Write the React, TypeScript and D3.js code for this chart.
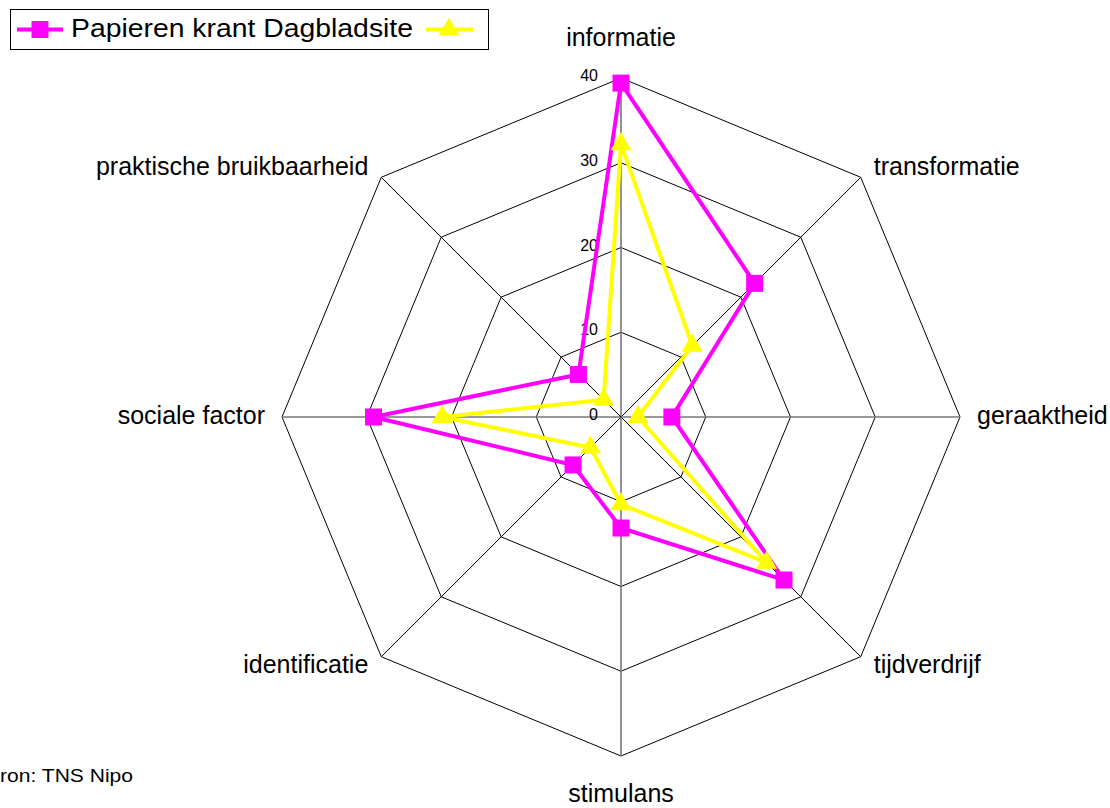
import { useEffect, useRef } from 'react';
import * as d3 from 'd3';

const categories = [
  'informatie',
  'transformatie',
  'geraaktheid',
  'tijdverdrijf',
  'stimulans',
  'identificatie',
  'sociale factor',
  'praktische bruikbaarheid',
];
const papieren = [39.4, 22.3, 6.0, 27.2, 13.1, 8.0, 29.2, 7.1];
const dagbladsite = [32.2, 11.9, 2.0, 24.3, 10.3, 5.1, 21.1, 2.9];
const ticks = [0, 10, 20, 30, 40];
const legendLabel = 'Papieren krant Dagbladsite';
const source = 'Bron: TNS Nipo';

const MAGENTA = '#FF00FF';
const YELLOW = '#FFFF00';

const App = () => {
  const svgRef = useRef<SVGSVGElement>(null);

  useEffect(() => {
    if (!svgRef.current) return;
    const svg = d3.select(svgRef.current);
    svg.selectAll('*').remove();

    const cx = 621;
    const cy = 417;
    const font = 'Liberation Sans, Arial, sans-serif';

    const r = d3.scaleLinear().domain([0, 40]).range([0, 339]);
    const angle = d3
      .scaleLinear()
      .domain([0, categories.length])
      .range([0, 2 * Math.PI]);

    const g = svg.append('g').attr('transform', `translate(${cx},${cy})`);

    // octagon rings
    const ring = d3
      .lineRadial<number>()
      .angle((_, i) => angle(i))
      .radius((d) => r(d))
      .curve(d3.curveLinearClosed);
    ticks.slice(1).forEach((t) => {
      g.append('path')
        .attr('d', ring(categories.map(() => t)))
        .attr('fill', 'none')
        .attr('stroke', '#000')
        .attr('stroke-width', 1);
    });

    // spokes
    categories.forEach((_, i) => {
      const a = angle(i);
      const straight = i % 2 === 0;
      g.append('line')
        .attr('x1', 0)
        .attr('y1', 0)
        .attr('x2', r(40) * Math.sin(a))
        .attr('y2', -r(40) * Math.cos(a))
        .attr('stroke', straight ? '#777' : '#000')
        .attr('stroke-width', straight ? 1.6 : 1);
    });

    // tick labels
    g.selectAll('text.tick')
      .data(ticks)
      .join('text')
      .attr('class', 'tick')
      .attr('x', -23)
      .attr('y', (d) => -r(d) + 3)
      .attr('text-anchor', 'end')
      .attr('font-family', font)
      .attr('font-size', 16)
      .text((d) => d);

    // category labels
    categories.forEach((c, i) => {
      const a = angle(i);
      const sx = Math.sin(a);
      const sy = -Math.cos(a);
      const vertical = Math.abs(sx) < 0.1;
      const diagonal = Math.abs(sx) > 0.1 && Math.abs(sy) > 0.1;
      const x = vertical ? 0 : r(40) * sx + (sx > 0 ? 1 : -1) * (diagonal ? 13 : 17);
      const y = vertical
        ? (r(40) + 39) * sy
        : r(40) * sy + (diagonal ? (sy > 0 ? 10 : -8.5) : 0);
      g.append('text')
        .attr('x', x)
        .attr('y', y)
        .attr('text-anchor', vertical ? 'middle' : sx > 0 ? 'start' : 'end')
        .attr('dominant-baseline', 'middle')
        .attr('font-family', font)
        .attr('font-size', 25)
        .attr('fill', '#000')
        .text(c);
    });

    const line = d3
      .lineRadial<number>()
      .angle((_, i) => angle(i))
      .radius((d) => r(d))
      .curve(d3.curveLinearClosed);

    const pt = (d: number, i: number) => [
      r(d) * Math.sin(angle(i)),
      -r(d) * Math.cos(angle(i)),
    ];

    // papieren krant
    g.append('path')
      .attr('d', line(papieren))
      .attr('fill', 'none')
      .attr('stroke', MAGENTA)
      .attr('stroke-width', 4);
    // dagbladsite
    g.append('path')
      .attr('d', line(dagbladsite))
      .attr('fill', 'none')
      .attr('stroke', YELLOW)
      .attr('stroke-width', 4);

    const square = d3.symbol().type(d3.symbolSquare).size(289);
    const triangle = d3.symbol().type(d3.symbolTriangle).size(190);

    g.selectAll('path.sq')
      .data(papieren)
      .join('path')
      .attr('class', 'sq')
      .attr('d', square)
      .attr('transform', (d, i) => `translate(${pt(d, i)})`)
      .attr('fill', MAGENTA);

    g.selectAll('path.tri')
      .data(dagbladsite)
      .join('path')
      .attr('class', 'tri')
      .attr('d', triangle)
      .attr('transform', (d, i) => `translate(${pt(d, i)})`)
      .attr('fill', YELLOW);

    // legend
    const lg = svg.append('g');
    lg.append('rect')
      .attr('x', 10.5)
      .attr('y', 9.5)
      .attr('width', 478)
      .attr('height', 40)
      .attr('fill', '#fff')
      .attr('stroke', '#000')
      .attr('stroke-width', 1);
    lg.append('line')
      .attr('x1', 17)
      .attr('x2', 63)
      .attr('y1', 29.5)
      .attr('y2', 29.5)
      .attr('stroke', MAGENTA)
      .attr('stroke-width', 4);
    lg.append('path')
      .attr('d', square)
      .attr('transform', 'translate(40,29.5)')
      .attr('fill', MAGENTA);
    lg.append('text')
      .attr('x', 71)
      .attr('y', 30)
      .attr('dominant-baseline', 'middle')
      .attr('font-family', font)
      .attr('font-size', 25)
      .attr('textLength', 342)
      .attr('lengthAdjust', 'spacingAndGlyphs')
      .text(legendLabel);
    lg.append('line')
      .attr('x1', 426)
      .attr('x2', 473)
      .attr('y1', 29.5)
      .attr('y2', 29.5)
      .attr('stroke', YELLOW)
      .attr('stroke-width', 4);
    lg.append('path')
      .attr('d', triangle)
      .attr('transform', 'translate(449,29.5)')
      .attr('fill', YELLOW);

    // source (partly cut off at the left edge, as in the original)
    svg
      .append('text')
      .attr('x', -14)
      .attr('y', 782)
      .attr('font-family', font)
      .attr('font-size', 18)
      .attr('textLength', 147)
      .attr('lengthAdjust', 'spacingAndGlyphs')
      .text(source);
  }, []);

  return (
    <svg
      ref={svgRef}
      width={1110}
      height={808}
      style={{ position: 'absolute', left: 0, top: 0, background: '#fff' }}
    />
  );
};

export default App;
